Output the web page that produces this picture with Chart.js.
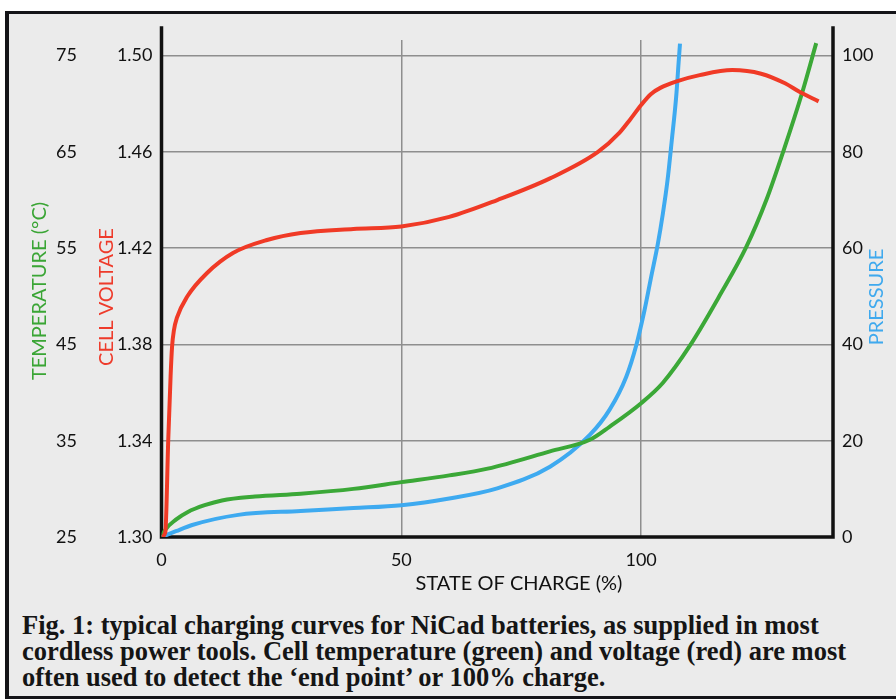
<!DOCTYPE html>
<html>
<head>
<meta charset="utf-8">
<script src="https://cdn.jsdelivr.net/npm/chart.js@4/dist/chart.umd.min.js"></script>
<style>
  html, body { margin:0; padding:0; background:#ffffff; width:896px; height:699px; overflow:hidden; }
  #frame { position:absolute; left:5px; top:11px; width:887px; height:682px; background:#ebebeb;
           border-top:3px solid #141418; border-left:4px solid #141418; border-bottom:3px solid #141418; }
  #c { position:absolute; left:0; top:0; }
  #caption { position:absolute; left:22px; top:612px; width:872px; font-family:"Liberation Serif", serif;
             font-weight:bold; font-size:26.5px; line-height:26px; color:#151515; white-space:nowrap; }
</style>
</head>
<body>
<div id="frame"></div>
<canvas id="c" width="896" height="600"></canvas>
<div id="caption">Fig. 1: typical charging curves for NiCad batteries, as supplied in most<br>cordless power tools. Cell temperature (green) and voltage (red) are most<br>often used to detect the ‘end point’ or 100% charge.</div>
<script>
// ---- data ----
const voltageX = [0, 0.8, 1.4, 1.9, 2.2, 2.6, 3.2, 5.4, 9.5, 14.9, 22, 29, 40, 50, 60, 70, 81, 91, 95.5, 97.6, 100, 102, 104, 107.4, 112.2, 119, 125, 130, 133, 137];
const voltageY = [1.300, 1.302, 1.340, 1.367, 1.379, 1.386, 1.391, 1.400, 1.4097, 1.418, 1.4234, 1.4263, 1.428, 1.429, 1.433, 1.440, 1.449, 1.460, 1.468, 1.4732, 1.4795, 1.4840, 1.4866, 1.4893, 1.4919, 1.494, 1.4925, 1.4885, 1.485, 1.481];

const tempX = [0, 0.7, 3, 5.5, 9, 12.6, 19.5, 29, 40, 50, 60, 68, 81, 89.3, 93.4, 100, 104.5, 110.2, 116.4, 121.9, 126.1, 129.8, 133.6, 136.5];
const tempY = [25, 25.7, 26.8, 27.6, 28.3, 28.8, 29.2, 29.5, 30.0, 30.7, 31.4, 32.1, 33.9, 35.1, 36.45, 38.9, 41.0, 44.9, 50.1, 55.1, 60.0, 65.3, 71.2, 76.3];

const pressureX = [0, 3, 6.4, 16, 29, 40, 50, 60, 70, 81, 89.3, 93.4, 96.9, 99.0, 100.7, 102.1, 103.5, 104.5, 105.5, 106.4, 107.3, 107.8, 108.1];
const pressureY = [0, 1.2, 2.5, 4.6, 5.4, 6.0, 6.6, 8.0, 10.1, 14.6, 21.2, 26.4, 33.3, 39.9, 47.1, 54.1, 61.0, 67.0, 74.1, 82.5, 91.4, 98.4, 102.5];

const xTicks = [0, 50, 100];
const voltageTicks = [1.30, 1.34, 1.38, 1.42, 1.46, 1.50];
const tempTicks = [25, 35, 45, 55, 65, 75];
const pressureTicks = [0, 20, 40, 60, 80, 100];

// ---- scale ranges (voltage 1.30-1.50 shares pixels with 25-75 °C and 0-100 pressure) ----
const vMin = 1.30, vMax = 1.5065;
const frac = (vMax - vMin) / 0.2;
const tMin = 25, tMax = 25 + 50 * frac;
const pMin = 0, pMax = 100 * frac;

const toPts = (xs, ys) => xs.map((x, i) => ({ x: x, y: ys[i] }));

const tickFont = { family: "Lato, 'Open Sans', sans-serif", size: 18 };
const tickColor = '#111111';
const gridColor = '#8e8e8e';

const decor = {
  id: 'decor',
  beforeDatasetsDraw(chart) {
    const { ctx, chartArea: a } = chart;
    ctx.save();
    ctx.strokeStyle = '#111';
    ctx.lineWidth = 3.5;
    ctx.lineCap = 'square';
    ctx.beginPath();
    ctx.moveTo(a.left, a.top - 12);
    ctx.lineTo(a.left, a.bottom);
    ctx.lineTo(a.right, a.bottom);
    ctx.lineTo(a.right, a.top - 12);
    ctx.stroke();
    ctx.restore();
  },
  afterDraw(chart) {
    const { ctx } = chart;
    ctx.save();
    ctx.font = "20px Lato, 'Open Sans', sans-serif";
    ctx.textAlign = 'center';
    ctx.textBaseline = 'middle';
    const vtitle = (txt, x, y, color) => {
      ctx.save();
      ctx.translate(x, y);
      ctx.rotate(-Math.PI / 2);
      ctx.fillStyle = color;
      ctx.fillText(txt, 0, 0);
      ctx.restore();
    };
    vtitle('TEMPERATURE (°C)', 40, 291, '#3aa535');
    vtitle('CELL VOLTAGE', 107, 297, '#ee3b2b');
    vtitle('PRESSURE', 877, 297, '#3fa9ee');
    ctx.fillStyle = '#111111';
    ctx.fillText('STATE OF CHARGE (%)', 519, 584);
    ctx.restore();
  }
};

new Chart(document.getElementById('c'), {
  type: 'scatter',
  data: {
    datasets: [
      { label: 'Cell voltage', data: toPts(voltageX, voltageY), yAxisID: 'yV',
        borderColor: '#f03a26', borderWidth: 4, showLine: true, pointRadius: 0, cubicInterpolationMode: 'monotone' },
      { label: 'Temperature', data: toPts(tempX, tempY), yAxisID: 'yT',
        borderColor: '#3ba837', borderWidth: 4, showLine: true, pointRadius: 0, cubicInterpolationMode: 'monotone' },
      { label: 'Pressure', data: toPts(pressureX, pressureY), yAxisID: 'yP',
        borderColor: '#3eaaf0', borderWidth: 4, showLine: true, pointRadius: 0, cubicInterpolationMode: 'monotone' }
    ]
  },
  options: {
    responsive: false,
    animation: false,
    maintainAspectRatio: false,
    layout: { padding: { left: 28, top: 40, right: 0, bottom: 0 } },
    plugins: { legend: { display: false }, tooltip: { enabled: false } },
    scales: {
      x: {
        type: 'linear', position: 'bottom', min: 0, max: 140,
        afterBuildTicks: s => { s.ticks = xTicks.map(v => ({ value: v })); },
        afterFit: s => { s.height = 63; },
        grid: { color: gridColor, lineWidth: 1.5, drawTicks: false },
        border: { display: false },
        ticks: { padding: 12, font: tickFont, color: tickColor, maxRotation: 0 }
      },
      yV: {
        type: 'linear', position: 'left', min: vMin, max: vMax,
        afterBuildTicks: s => { s.ticks = voltageTicks.map(v => ({ value: v })); },
        afterFit: s => { s.width = 78.5; },
        grid: { color: gridColor, lineWidth: 1.5, drawTicks: false },
        border: { display: false },
        ticks: { padding: 9, font: tickFont, color: tickColor, callback: v => Number(v).toFixed(2) }
      },
      yT: {
        type: 'linear', position: 'left', min: tMin, max: tMax,
        afterBuildTicks: s => { s.ticks = tempTicks.map(v => ({ value: v })); },
        afterFit: s => { s.width = 55; },
        grid: { display: false, drawTicks: false },
        border: { display: false },
        ticks: { padding: 6, font: tickFont, color: tickColor }
      },
      yP: {
        type: 'linear', position: 'right', min: pMin, max: pMax,
        afterBuildTicks: s => { s.ticks = pressureTicks.map(v => ({ value: v })); },
        afterFit: s => { s.width = 63; },
        grid: { display: false, drawTicks: false },
        border: { display: false },
        ticks: { padding: 9, font: tickFont, color: tickColor }
      }
    }
  },
  plugins: [decor]
});
</script>
</body>
</html>
